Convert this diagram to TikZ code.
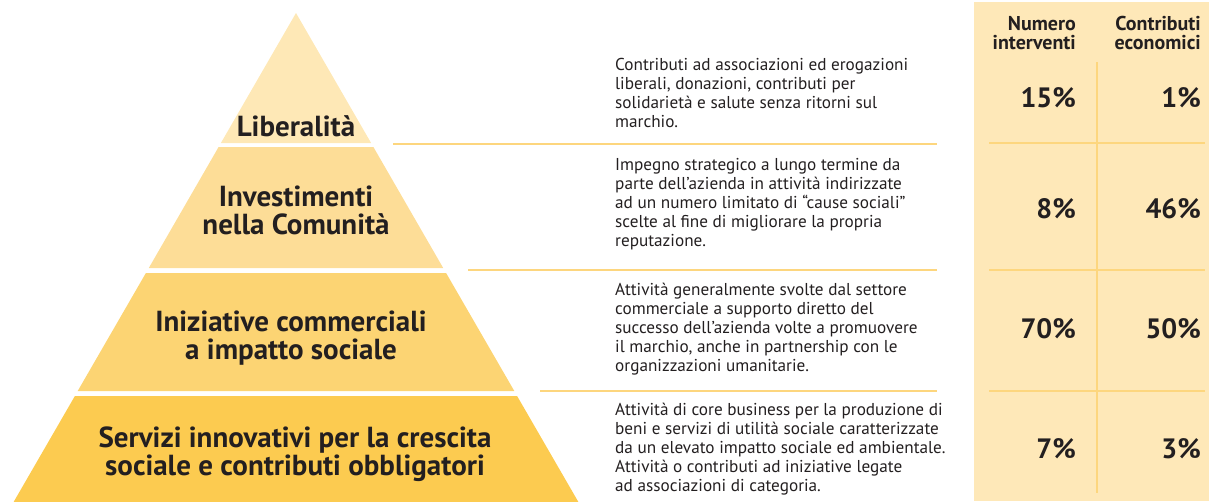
\documentclass[tikz,border=0pt]{standalone}
\usepackage{fontspec}
\setmainfont{PT Sans}
\definecolor{lay1}{HTML}{FEE8B6}
\definecolor{lay2}{HTML}{FDDD97}
\definecolor{lay3}{HTML}{FCD473}
\definecolor{lay4}{HTML}{FCCB50}
\definecolor{tabbg}{HTML}{FEE8B8}
\definecolor{sep}{HTML}{FDD67E}
\definecolor{ink}{HTML}{231F20}
\tikzset{
  layerlabel/.style={font=\bfseries\fontsize{29}{28}\selectfont, text=ink, align=center, inner sep=0pt, anchor=base},
  desc/.style={font=\fontsize{17.2}{18.8}\selectfont, text=ink, align=left, inner sep=0pt, anchor=base west},
  pct/.style={font=\bfseries\fontsize{28}{30}\selectfont, text=ink, inner sep=0pt, anchor=base east},
  head/.style={font=\bfseries\fontsize{20}{19}\selectfont, text=ink, align=right, inner sep=0pt, anchor=base east},
  sepline/.style={draw=sep, line width=1.2pt}
}
\begin{document}
\begin{tikzpicture}[x=1pt,y=-1pt]
\useasboundingbox (0,0) rectangle (1209,501);
% table background
\fill[tabbg] (974,2) rectangle (1209,501);
\draw[sepline] (1097,62) -- (1097,493);
\draw[sepline] (989,143) -- (1205,143);
\draw[sepline] (989,270) -- (1205,270);
\draw[sepline] (989,391) -- (1205,391);
% pyramid layers
\fill[lay1] (296,13) -- (371.1,143) -- (220.9,143) -- cycle;
\fill[lay2] (218.6,147) -- (373.4,147) -- (443.2,268) -- (148.8,268) -- cycle;
\fill[lay3] (145.9,273) -- (446.1,273) -- (514.3,391) -- (77.7,391) -- cycle;
\fill[lay4] (74.9,396) -- (517.1,396) -- (578.4,502) -- (13.6,502) -- cycle;
% separator lines
\draw[sepline] (393,144) -- (937,144);
\draw[sepline] (468,270) -- (937,270);
\draw[sepline] (540,391) -- (937,391);
% layer labels (base = last line)
\node[layerlabel] (l1) at (296,136) {Liberalità};
\node[layerlabel] (l2) at (296,234) {Investimenti\\nella Comunità};
\node[layerlabel] (l3) at (291,359) {Iniziative commerciali\\a impatto sociale};
\node[layerlabel] (l4) at (295,475) {Servizi innovativi per la crescita\\sociale e contributi obbligatori};
% descriptions (base = last line)
\node[desc] (d1) at (615,127) {Contributi ad associazioni ed erogazioni\\liberali, donazioni, contributi per\\solidarietà e salute senza ritorni sul\\marchio.};
\node[desc] (d2) at (615,246) {Impegno strategico a lungo termine da\\parte dell’azienda in attività indirizzate\\ad un numero limitato di “cause sociali”\\scelte al fine di migliorare la propria\\reputazione.};
\node[desc] (d3) at (615,371) {Attività generalmente svolte dal settore\\commerciale a supporto diretto del\\successo dell’azienda volte a promuovere\\il marchio, anche in partnership con le\\organizzazioni umanitarie.};
\node[desc] (d4) at (615,491) {Attività di core business per la produzione di\\beni e servizi di utilità sociale caratterizzate\\da un elevato impatto sociale ed ambientale.\\Attività o contributi ad iniziative legate\\ad associazioni di categoria.};
% table headers (base = last line)
\node[head] (h1) at (1076,49) {Numero\\interventi};
\node[head] (h2) at (1201,49) {Contributi\\economici};
% percentages
\node[pct] (a1) at (1076,107) {15\%};
\node[pct] (b1) at (1201,107) {1\%};
\node[pct] (a2) at (1076,218) {8\%};
\node[pct] (b2) at (1201,218) {46\%};
\node[pct] (a3) at (1076,338) {70\%};
\node[pct] (b3) at (1201,338) {50\%};
\node[pct] (a4) at (1076,458) {7\%};
\node[pct] (b4) at (1201,458) {3\%};
\end{tikzpicture}
\end{document}
